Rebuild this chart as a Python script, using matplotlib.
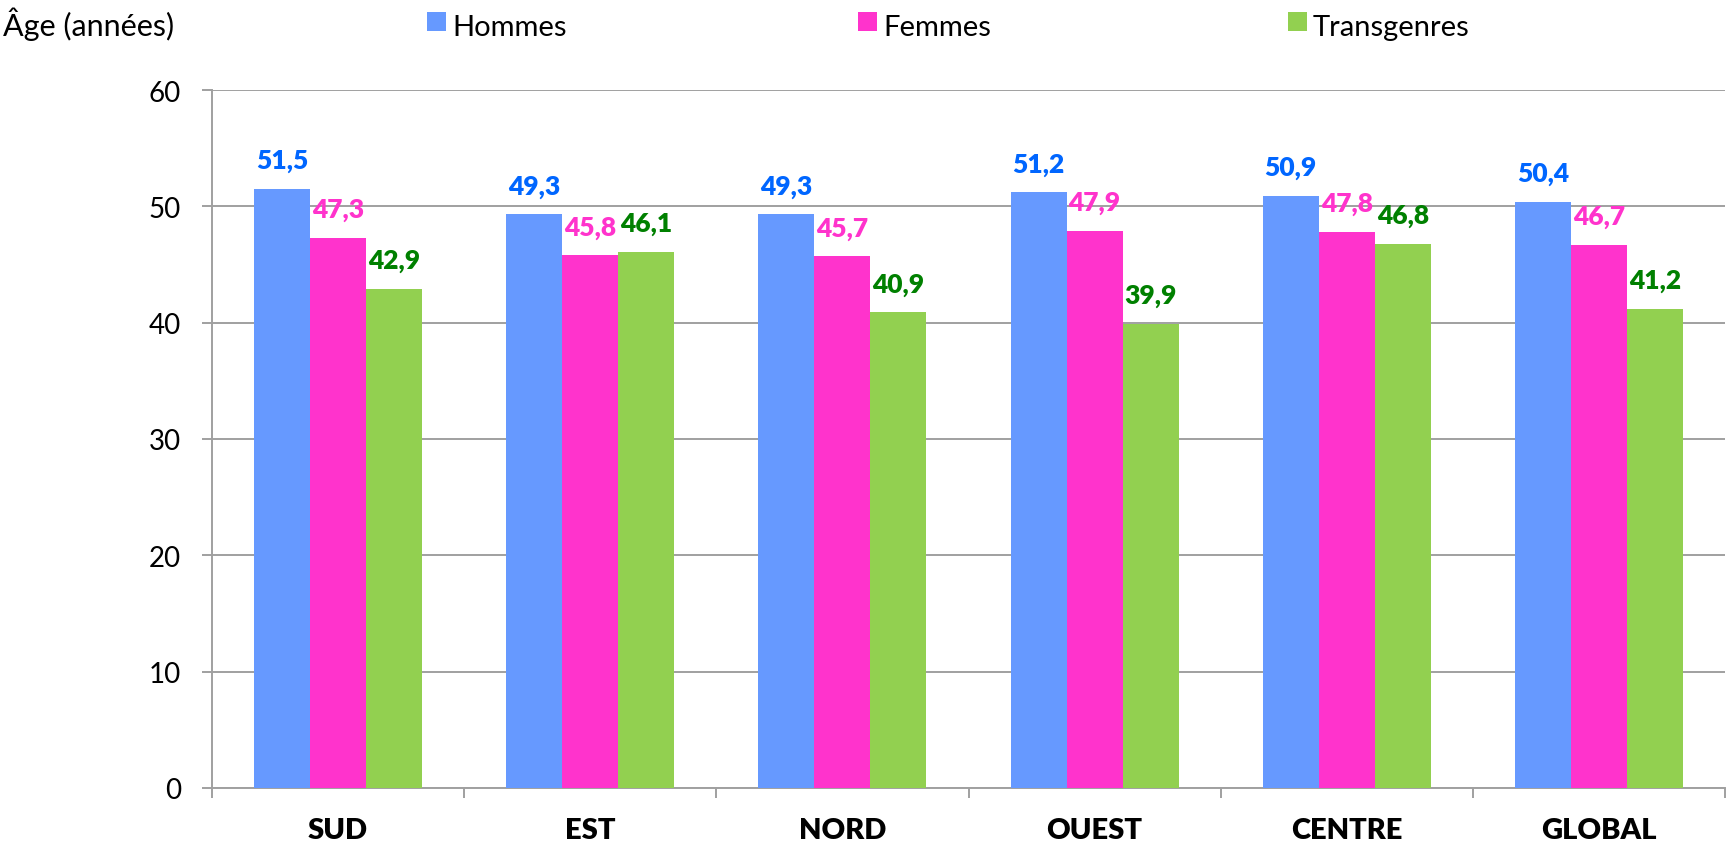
import matplotlib
matplotlib.use("Agg")
import matplotlib.pyplot as plt
from matplotlib.patches import Rectangle
import numpy as np

categories = ["SUD", "EST", "NORD", "OUEST", "CENTRE", "GLOBAL"]
series_names = ["Hommes", "Femmes", "Transgenres"]
hommes = [51.5, 49.3, 49.3, 51.2, 50.9, 50.4]
femmes = [47.3, 45.8, 45.7, 47.9, 47.8, 46.7]
transgenres = [42.9, 46.1, 40.9, 39.9, 46.8, 41.2]
yticks = [0, 10, 20, 30, 40, 50, 60]

bar_colors = ["#6699FF", "#FF33CC", "#92D050"]
label_colors = ["#0066FF", "#FF33CC", "#008000"]

plt.rcParams["font.family"] = ["Lato", "DejaVu Sans"]

W, H = 1727, 845
fig = plt.figure(figsize=(W / 100, H / 100), dpi=100)
ax = fig.add_axes([212 / W, 1 - 789 / H, (1725 - 212) / W, (789 - 91) / H])

series = [hommes, femmes, transgenres]
bw = 2 / 9
x = np.arange(len(categories)) + 0.5
for k, (vals, bc, lc) in enumerate(zip(series, bar_colors, label_colors)):
    xs = x + (k - 1) * bw
    ax.bar(xs, vals, width=bw, color=bc, linewidth=0, zorder=3)
    for xi, v in zip(xs, vals):
        ax.annotate(f"{v:.1f}".replace(".", ","), (xi, v), xytext=(0, 15),
                    textcoords="offset points", ha="center", va="baseline",
                    fontsize=19, fontweight="heavy", color=lc, zorder=4)

ax.set_xlim(0, len(categories))
ax.set_ylim(0, 60)
ax.set_yticks(yticks)
ax.set_yticklabels([str(t) for t in yticks], fontsize=20)
ax.yaxis.grid(True, color="#A0A0A0", linewidth=1.4, zorder=0)
ax.set_axisbelow(True)

ax.set_xticks(x)
ax.set_xticklabels(categories, fontsize=21, fontweight="heavy")
ax.set_xticks(np.arange(len(categories) + 1), minor=True)
ax.tick_params(axis="x", which="major", length=0, pad=21)
ax.tick_params(axis="x", which="minor", length=7.5, width=1.4, color="#A0A0A0", direction="out")
ax.tick_params(axis="y", length=7.5, width=1.4, color="#A0A0A0", direction="out", pad=15)

for s in ["top", "right"]:
    ax.spines[s].set_visible(False)
for s in ["left", "bottom"]:
    ax.spines[s].set_color("#A0A0A0")
    ax.spines[s].set_linewidth(1.4)

# y-axis title
fig.text(3 / W, 1 - 36 / H, "Âge (années)", fontsize=22, ha="left", va="baseline")

# legend
leg_sq_x = [427, 858, 1288]
for name, col, sx in zip(series_names, bar_colors, leg_sq_x):
    fig.patches.append(Rectangle((sx / W, 1 - 32 / H), 19 / W, 19 / H,
                                 transform=fig.transFigure, color=col, linewidth=0))
    fig.text((sx + 25) / W, 1 - 36 / H, name, fontsize=21, ha="left", va="baseline")

fig.savefig("out.png", dpi=100)
